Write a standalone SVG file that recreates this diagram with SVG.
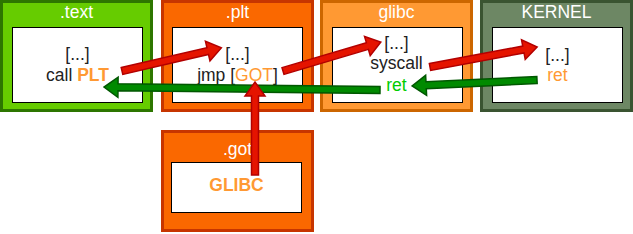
<svg xmlns="http://www.w3.org/2000/svg" width="633" height="234" viewBox="0 0 633 234">
<style>
.outer{stroke-width:3}
.inner{fill:#fff;stroke:#000;stroke-width:1}
text{font-family:"Liberation Sans",Arial,sans-serif;font-size:17.5px;text-anchor:middle}
.title{fill:#fff}
.code{fill:#222}
.org{fill:#ff9933}
.grn{fill:#00cc00}
.b{font-weight:bold}
.ra{fill:#e51400;stroke:#b20000;stroke-width:1.5}
.ga{fill:#008a00;stroke:#005700;stroke-width:1.5}
</style>
<rect width="633" height="234" fill="#fff"/>
<g id="text">
<rect class="outer" x="1.5" y="1.5" width="150" height="109" fill="#66cc00" stroke="#2d7600"/>
<text class="title" x="76.5" y="18">.text</text>
<rect class="inner" x="12.5" y="27.5" width="130" height="75"/>
<text class="code" x="77.5" y="60">[...]</text>
<text class="code" x="77.5" y="81">call <tspan class="org b">PLT</tspan></text>
</g>
<g id="plt">
<rect class="outer" x="162.5" y="1.5" width="150" height="109" fill="#fa6800" stroke="#c73500"/>
<text class="title" x="237.5" y="18">.plt</text>
<rect class="inner" x="172.5" y="27.5" width="130" height="75"/>
<text class="code" x="237.5" y="60">[...]</text>
<text class="code" x="237.5" y="81">jmp [<tspan class="org">GOT</tspan>]</text>
</g>
<g id="glibc">
<rect class="outer" x="321.5" y="1.5" width="150" height="109" fill="#ff9933" stroke="#cc6600"/>
<text class="title" x="396.5" y="18">glibc</text>
<rect class="inner" x="332.5" y="27.5" width="130" height="75"/>
<text class="code" x="396.5" y="49">[...]</text>
<text class="code" x="396.5" y="69">syscall</text>
<text class="grn" x="396.5" y="91">ret</text>
</g>
<g id="kernel">
<rect class="outer" x="481.5" y="1.5" width="150" height="109" fill="#6d8764" stroke="#3a5431"/>
<text class="title" x="556.5" y="18">KERNEL</text>
<rect class="inner" x="492.5" y="27.5" width="130" height="75"/>
<text class="code" x="557.5" y="61">[...]</text>
<text class="org" x="557.5" y="81">ret</text>
</g>
<g id="got">
<rect class="outer" x="162.5" y="131.5" width="150" height="99" fill="#fa6800" stroke="#c73500"/>
<text class="title" x="237.5" y="155">.got</text>
<rect class="inner" x="171.5" y="162.5" width="130" height="50"/>
<text class="org b" x="236.5" y="191">GLIBC</text>
</g>
<g id="connectors">
<path class="ga" transform="translate(380,90) rotate(-179.4)" d="M0,-3.5 L262,-3.5 L262,-10 L276,0 L262,10 L262,3.5 L0,3.5 Z"/>
<path class="ga" transform="translate(537,80) rotate(177.25)" d="M0,-3.5 L111,-3.5 L111,-10 L125,0 L111,10 L111,3.5 L0,3.5 Z"/>
<path class="ra" transform="translate(122,71) rotate(-13.1)" d="M0,-3.5 L88,-3.5 L88,-10 L102,0 L88,10 L88,3.5 L0,3.5 Z"/>
<path class="ra" transform="translate(283,71) rotate(-16.5)" d="M0,-3.5 L88,-3.5 L88,-10 L102,0 L88,10 L88,3.5 L0,3.5 Z"/>
<path class="ra" transform="translate(430,67) rotate(-10.6)" d="M0,-3.5 L95,-3.5 L95,-10 L109,0 L95,10 L95,3.5 L0,3.5 Z"/>
<path class="ra" transform="translate(255,175) rotate(-90)" d="M0,-3.5 L79,-3.5 L79,-10 L93,0 L79,10 L79,3.5 L0,3.5 Z"/>
</g>
</svg>
